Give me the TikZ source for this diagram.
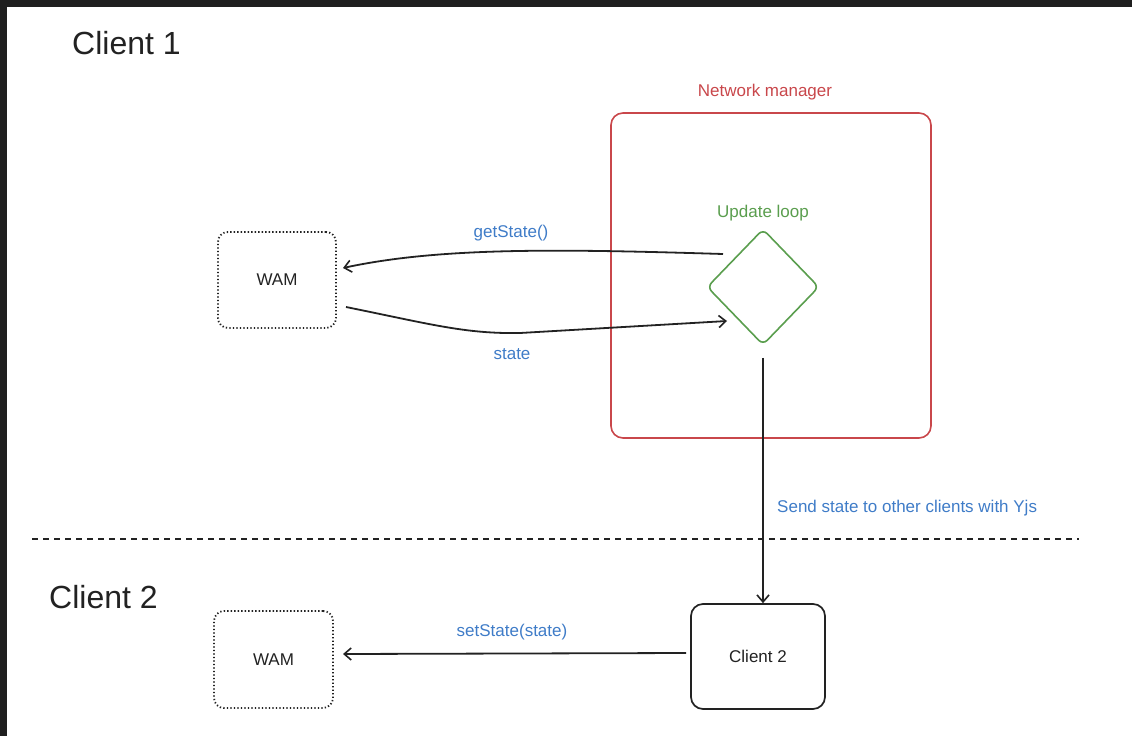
\documentclass[tikz,border=0pt]{standalone}
\usepackage{fontspec}
\setmainfont{Liberation Sans}
\usetikzlibrary{shapes.geometric,arrows.meta,calc}
\definecolor{darkbg}{HTML}{1F1F1F}
\definecolor{lblue}{HTML}{3F7CC8}
\definecolor{nred}{HTML}{C9474B}
\definecolor{lgreen}{HTML}{5A9E4E}
\definecolor{ink}{HTML}{222222}
\tikzset{
  x=1pt, y=-1pt,
  title/.style={font=\fontsize{32}{36}\selectfont, text=ink, anchor=base west, inner sep=0},
  lbl/.style={font=\fontsize{17}{20}\selectfont, inner sep=0, anchor=base},
  dotbox/.style={draw=ink, line width=1.8pt, dash pattern=on 1.3pt off 2.2pt, rounded corners=10pt,
    minimum width=118pt, minimum height=96pt, inner sep=0, font=\fontsize{17}{20}\selectfont, text=ink},
  solidbox/.style={draw=ink, line width=1.7pt, rounded corners=12pt, inner sep=0,
    font=\fontsize{17}{20}\selectfont, text=ink},
  conn/.style={draw=ink, line width=1.8pt, -{Straight Barb[length=7pt,width=12pt,line width=1.6pt]}},
}
\begin{document}
\begin{tikzpicture}
\useasboundingbox (0,0) rectangle (1132,736);
\fill[darkbg] (0,0) rectangle (1132,736);
\fill[white] (7,7) rectangle (1132,736);

% titles
\node[title] (c1title) at (72,54) {Client 1};
\node[title] (c2title) at (49,608) {Client 2};

% network manager
\node[draw=nred, line width=1.6pt, rounded corners=12pt, minimum width=320pt, minimum height=325pt, inner sep=0] (nm) at (771,275.5) {};
\node[lbl, text=nred] (nmlabel) at (765,96) {Network manager};

% update loop
\node[diamond, draw=lgreen, line width=1.6pt, rounded corners=6pt, minimum width=112pt, minimum height=116pt, inner sep=0] (loop) at (763,287) {};
\node[lbl, text=lgreen] (looplabel) at (763,217) {Update loop};

% WAM boxes
\node[dotbox] (wam1) at (277,280) {WAM};
\node[dotbox, minimum width=119pt, minimum height=97pt] (wam2) at (273.5,659.5) {WAM};

% client 2 box
\node[solidbox, minimum width=134pt, minimum height=105pt] (cl2) at (758,656.5) {Client 2};

% divider
\coordinate (divL) at (32,539);
\coordinate (divR) at (1079,539);
\draw[ink, line width=1.7pt, dash pattern=on 6pt off 5pt] (divL) -- (divR);

% connectors
\coordinate (gsStart) at (723,254);
\coordinate (gsEnd) at (343,268);
\draw[conn] (gsStart) .. controls (560,249) and (440,247) .. (gsEnd);
\node[lbl, text=lblue] (gslabel) at (511,237) {getState()};

\coordinate (stStart) at (346,307);
\coordinate (stMid) at (520,333);
\coordinate (stEnd) at (727,321);
\draw[conn] (stStart) .. controls (430,324) and (465,334) .. (stMid) -- (stEnd);
\node[lbl, text=lblue] (stlabel) at (512,359) {state};

\coordinate (sendStart) at ($(loop.south)+(0,12)$);
\draw[conn] (sendStart) -- (sendStart |- cl2.north);
\node[lbl, text=lblue, anchor=base west] (sendlabel) at (777,512) {Send state to other clients with Yjs};

\coordinate (ssStart) at (686,653);
\coordinate (ssEnd) at (343,654);
\draw[conn] (ssStart) -- (ssEnd);
\node[lbl, text=lblue] (sslabel) at (512,636) {setState(state)};
\end{tikzpicture}
\end{document}
